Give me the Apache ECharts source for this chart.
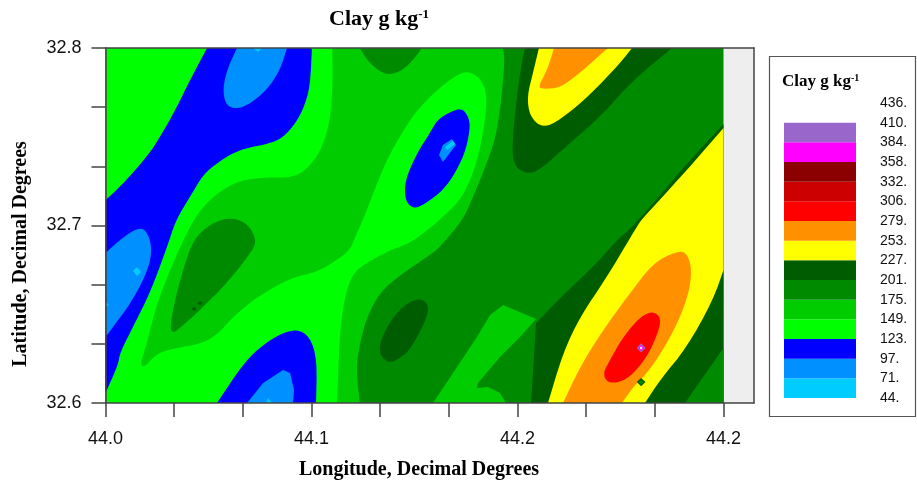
<!DOCTYPE html>
<html><head><meta charset="utf-8">
<style>html,body{margin:0;padding:0;background:#fff}#c{width:917px;height:482px}</style>
<script src="https://cdn.jsdelivr.net/npm/echarts@6/dist/echarts.min.js"></script>
</head><body><div id="c"></div>
<script>
// ---- axis ticks and labels ----
const xTickValues = [44, 44.0333, 44.0667, 44.1, 44.1333, 44.1667, 44.2, 44.2333, 44.2667, 44.3];
const xLabelValues = [44, 44.1, 44.2, 44.3];
const xLabelTexts = ['44.0', '44.1', '44.2', '44.2'];
const yTickValues = [32.6, 32.6333, 32.6667, 32.7, 32.7333, 32.7667, 32.8];
const yLabelValues = [32.6, 32.7, 32.8];
const yLabelTexts = ['32.6', '32.7', '32.8'];

// ---- colour classes, low to high ----
const legendLevels = ['44.', '71.', '97.', '123.', '149.', '175.', '201.', '227.', '253.', '279.', '306.', '332.', '358.', '384.', '410.', '436.'];
const legendColors = ['#00ccff', '#0090ff', '#0000ff', '#00ff00', '#00cc00', '#008a00', '#005c00', '#ffff00', '#ff9000', '#ff0000', '#cc0000', '#8b0000', '#ff00ff', '#9966cc'];

// ---- contour regions: [longitude, latitude] ----
const fieldExtent = [[44, 32.8], [44.3, 32.8], [44.3, 32.6], [44, 32.6]];
const band149Main = [[44.193, 32.8], [44.1939, 32.7915], [44.1905, 32.7538], [44.1852, 32.7352], [44.1784, 32.7161], [44.1735, 32.7031], [44.1624, 32.6879], [44.1575, 32.6834], [44.143, 32.6721], [44.1333, 32.6625], [44.1269, 32.6485], [44.1235, 32.6338], [44.1216, 32.6186], [44.1235, 32.6], [44, 32.6], [44, 32.8]];
const band149Patch = [[44.159, 32.6], [44.1687, 32.6169], [44.1803, 32.6372], [44.1867, 32.6496], [44.193, 32.6552], [44.209, 32.6473], [44.2012, 32.6372], [44.1915, 32.6259], [44.1808, 32.6113], [44.1803, 32.6085], [44.1857, 32.609], [44.1915, 32.6056], [44.1944, 32.6]];
const band175Top = [[44.1235, 32.8], [44.1269, 32.7932], [44.1333, 32.7865], [44.1381, 32.7848], [44.1444, 32.7876], [44.1502, 32.7944], [44.1536, 32.8]];
const band123Main = [[44, 32.8], [44.11, 32.8], [44.1104, 32.782], [44.109, 32.7577], [44.1041, 32.7408], [44.0959, 32.7296], [44.0881, 32.7268], [44.0799, 32.7273], [44.0653, 32.7256], [44.0541, 32.7183], [44.0459, 32.7087], [44.0396, 32.6963], [44.0328, 32.6789], [44.025, 32.6563], [44.0201, 32.6338], [44.0167, 32.6214], [44.0192, 32.6203], [44.025, 32.6282], [44.0362, 32.6315], [44.0459, 32.6332], [44.0541, 32.6383], [44.0619, 32.6485], [44.0735, 32.6597], [44.0896, 32.6704], [44.1027, 32.6738], [44.1124, 32.6806], [44.1187, 32.6862], [44.1221, 32.6958], [44.125, 32.7031], [44.1318, 32.7239], [44.1381, 32.7408], [44.1478, 32.7594], [44.1527, 32.7668], [44.1624, 32.778], [44.1721, 32.7859], [44.1769, 32.7865], [44.1818, 32.7831], [44.1852, 32.7746], [44.1842, 32.7577], [44.1803, 32.7352], [44.1735, 32.7161], [44.1648, 32.7059], [44.1575, 32.6986], [44.1478, 32.6901], [44.1381, 32.6862], [44.1221, 32.6761], [44.1172, 32.6654], [44.1138, 32.6428], [44.1124, 32.6], [44, 32.6]];
const band175Island = [[44.0473, 32.6975], [44.0532, 32.702], [44.0595, 32.7042], [44.0653, 32.7031], [44.0701, 32.6992], [44.0731, 32.6918], [44.0716, 32.6862], [44.059, 32.6676], [44.0459, 32.6524], [44.0362, 32.6423], [44.0328, 32.6394], [44.0313, 32.6423], [44.0337, 32.658], [44.0376, 32.6749], [44.042, 32.6901]];
const band201Blob = [[44.1396, 32.6485], [44.1464, 32.6563], [44.1517, 32.6586], [44.1551, 32.6575], [44.157, 32.6535], [44.1551, 32.6456], [44.1478, 32.6299], [44.143, 32.6254], [44.1381, 32.6225], [44.1342, 32.6254], [44.1328, 32.631], [44.1347, 32.6383]];
const band201DotA = [[44.043, 32.6542], [44.0442, 32.653], [44.043, 32.6518], [44.0418, 32.653]];
const band201DotB = [[44.0459, 32.6575], [44.0471, 32.6563], [44.0459, 32.6551], [44.0447, 32.6563]];
const band97Diagonal = [[44, 32.7144], [44.007, 32.7217], [44.0201, 32.7386], [44.0265, 32.7499], [44.0347, 32.7668], [44.041, 32.782], [44.0493, 32.8], [44.1002, 32.8], [44.0993, 32.778], [44.0959, 32.7651], [44.091, 32.7555], [44.0847, 32.7482], [44.0765, 32.7454], [44.0687, 32.7437], [44.0619, 32.7408], [44.0541, 32.7352], [44.0473, 32.7285], [44.041, 32.7161], [44.0342, 32.7031], [44.0299, 32.6879], [44.0216, 32.662], [44.0133, 32.6428], [44.007, 32.6282], [44.0061, 32.6214], [44, 32.6056]];
const band97Ellipse = [[44.1454, 32.7256], [44.1512, 32.7408], [44.1575, 32.7521], [44.1609, 32.7594], [44.1672, 32.7639], [44.1731, 32.7662], [44.1765, 32.7606], [44.1769, 32.7538], [44.1745, 32.7408], [44.1687, 32.7273], [44.1624, 32.7183], [44.1527, 32.7104], [44.1488, 32.7099], [44.1454, 32.7144]];
const band97Bottom = [[44.0541, 32.6], [44.0638, 32.6169], [44.0716, 32.6282], [44.0833, 32.6383], [44.093, 32.6417], [44.0993, 32.6372], [44.1027, 32.6242], [44.1022, 32.6]];
const band71Top = [[44.0638, 32.8], [44.0595, 32.7893], [44.057, 32.778], [44.058, 32.769], [44.0619, 32.7656], [44.0687, 32.7673], [44.0784, 32.7763], [44.0847, 32.7876], [44.0881, 32.8]];
const band71Left = [[44, 32.6845], [44.0085, 32.6935], [44.0167, 32.6992], [44.0206, 32.6958], [44.0226, 32.6862], [44.0206, 32.6749], [44.0133, 32.658], [44.0036, 32.6428], [44, 32.6372]];
const band71Bottom = [[44.0687, 32.6], [44.0765, 32.6113], [44.0862, 32.6186], [44.0896, 32.6169], [44.0915, 32.6073], [44.091, 32.6]];
const band71Ellipse = [[44.1619, 32.7397], [44.1638, 32.7454], [44.1682, 32.7487], [44.1701, 32.7454], [44.1638, 32.7358]];
const band44Top = [[44.0716, 32.8], [44.074, 32.7977], [44.076, 32.8]];
const band44Left = [[44.0133, 32.6744], [44.0153, 32.6766], [44.0172, 32.6738], [44.0153, 32.6715]];
const band44Edge = [[44, 32.6569], [44.0017, 32.6555], [44, 32.6541]];
const band44Bottom = [[44.0779, 32.6], [44.0789, 32.6028], [44.0808, 32.6]];
const band44Ellipse = [[44.1648, 32.7442], [44.1687, 32.7476], [44.1697, 32.7459], [44.1658, 32.7425]];
const band201Top = [[44.2036, 32.8], [44.2012, 32.7859], [44.1988, 32.7634], [44.1973, 32.7425], [44.1988, 32.733], [44.2046, 32.729], [44.2109, 32.7313], [44.2255, 32.7465], [44.24, 32.7611], [44.2561, 32.782], [44.275, 32.8]];
const band227Top = [[44.2104, 32.8], [44.2075, 32.7859], [44.2046, 32.7724], [44.2061, 32.7611], [44.2124, 32.7549], [44.2206, 32.7594], [44.2352, 32.7735], [44.2498, 32.7915], [44.2556, 32.8]];
const band253Top = [[44.2177, 32.8], [44.2148, 32.7887], [44.21, 32.778], [44.2124, 32.7769], [44.2206, 32.7775], [44.2303, 32.7859], [44.2439, 32.8]];
const band201Lower = [[44.2066, 32.6], [44.209, 32.6451], [44.209, 32.6451], [44.2221, 32.6608], [44.2367, 32.6766], [44.2483, 32.6918], [44.2541, 32.6975], [44.2585, 32.7031], [44.2643, 32.7104], [44.2803, 32.7324], [44.3, 32.7572], [44.3, 32.6]];
const band227Lower = [[44.2148, 32.6], [44.2221, 32.6282], [44.2303, 32.6485], [44.2434, 32.671], [44.2532, 32.6901], [44.257, 32.6975], [44.26, 32.7031], [44.2658, 32.7104], [44.2823, 32.7313], [44.3, 32.7549], [44.3, 32.6749], [44.2949, 32.658], [44.2823, 32.6315], [44.2692, 32.613], [44.2619, 32.6]];
const band175Corner = [[44.2813, 32.6], [44.2901, 32.6146], [44.3, 32.631], [44.3, 32.6]];
const band253Lower = [[44.2221, 32.6], [44.2303, 32.6203], [44.2415, 32.6411], [44.2532, 32.6597], [44.2658, 32.6789], [44.2774, 32.6856], [44.2823, 32.6845], [44.2847, 32.6749], [44.2828, 32.6597], [44.2755, 32.6394], [44.2643, 32.6186], [44.2561, 32.609], [44.2507, 32.6]];
const band279Lower = [[44.2415, 32.6169], [44.2449, 32.6242], [44.2512, 32.6372], [44.2595, 32.6485], [44.2658, 32.6518], [44.2697, 32.6479], [44.2682, 32.6394], [44.2629, 32.6259], [44.2546, 32.6146], [44.2483, 32.6113], [44.2434, 32.6118]];
const peakOuter = [[44.26, 32.6336], [44.2622, 32.631], [44.26, 32.6284], [44.2578, 32.631]];
const peakMiddle = [[44.26, 32.6327], [44.2615, 32.631], [44.26, 32.6293], [44.2585, 32.631]];
const peakInner = [[44.26, 32.6318], [44.2607, 32.631], [44.26, 32.6302], [44.2593, 32.631]];
const spotOuter = [[44.26, 32.6141], [44.2621, 32.6118], [44.26, 32.6095], [44.2579, 32.6118]];
const spotInner = [[44.26, 32.613], [44.2612, 32.6118], [44.26, 32.6106], [44.2588, 32.6118]];

// painted in order, later regions over earlier ones; the third entry keeps a region angular
const contourLayers = [
  [fieldExtent, '#008a00'], [band149Main, '#00cc00'], [band149Patch, '#00cc00', true], [band175Top, '#008a00'],
  [band123Main, '#00ff00'], [band175Island, '#008a00'], [band201Blob, '#005c00'], [band201DotA, '#005c00'], [band201DotB, '#005c00'],
  [band97Diagonal, '#0000ff'], [band97Ellipse, '#0000ff'], [band97Bottom, '#0000ff'],
  [band71Top, '#0090ff'], [band71Left, '#0090ff'], [band71Bottom, '#0090ff'], [band71Ellipse, '#0090ff'],
  [band44Top, '#00ccff'], [band44Left, '#00ccff'], [band44Edge, '#00ccff'], [band44Bottom, '#00ccff'], [band44Ellipse, '#00ccff'],
  [band201Top, '#005c00'], [band227Top, '#ffff00'], [band253Top, '#ff9000'],
  [band201Lower, '#005c00'], [band227Lower, '#ffff00'], [band175Corner, '#008a00'], [band253Lower, '#ff9000'], [band279Lower, '#ff0000'],
  [peakOuter, '#9966cc'], [peakMiddle, '#ff00ff'], [peakInner, '#ffffff'], [spotOuter, '#005c00'], [spotInner, '#008a00']
];

const X0 = 44, X1 = 44.3, Y0 = 32.6, Y1 = 32.8;
const onEdge = p => p[0] === X0 || p[0] === X1 || p[1] === Y0 || p[1] === Y1;
// rounds the hand-read polygon corners when drawing; points on the field edge stay put
function rounded(points) {
  if (points.length < 7) return points;
  let pts = points;
  for (let k = 0; k < 2; k++) {
    const out = [];
    pts.forEach((p, i) => {
      const q = pts[(i + 1) % pts.length];
      out.push(onEdge(p) ? p : [p[0] * .75 + q[0] * .25, p[1] * .75 + q[1] * .25]);
      out.push(onEdge(q) ? q : [p[0] * .25 + q[0] * .75, p[1] * .25 + q[1] * .75]);
    });
    pts = out;
  }
  return pts;
}

const serif = '"Liberation Serif","Times New Roman",serif';
const sans = '"Liberation Sans",Arial,sans-serif';
const titleRich = (a, b) => ({ m: { fontFamily: serif, fontWeight: 'bold', fontSize: a, color: '#000' }, s: { fontFamily: serif, fontWeight: 'bold', fontSize: b, color: '#000', verticalAlign: 'top' } });
const frameLine = { show: true, onZero: false, lineStyle: { color: '#444', width: 1.5 } };

const chart = echarts.init(document.getElementById('c'), null, { renderer: 'canvas' });
chart.setOption({
  animation: false,
  backgroundColor: '#fff',
  title: [
    { text: '{m|Clay g kg}{s|-1}', left: 329, top: 8, padding: 0, textStyle: { rich: titleRich(22, 13) } },
    { text: '{m|Clay g kg}{s|-1}', left: 782, top: 73, padding: 0, textStyle: { rich: titleRich(17, 10) } }
  ],
  grid: [
    { left: 105.5, top: 48, width: 648.5, height: 355, show: true, backgroundColor: '#eeeeee', borderWidth: 0 },
    { left: 784, top: 103, width: 72, height: 295 }
  ],
  xAxis: [
    { gridIndex: 0, type: 'value', min: 44, max: 44.3148, position: 'bottom', z: 5, splitLine: { show: false }, axisLine: frameLine,
      axisTick: { show: true, length: 14, customValues: xTickValues, lineStyle: { color: '#444', width: 1.5 } },
      axisLabel: { customValues: xLabelValues, margin: 27, fontFamily: sans, fontSize: 18, color: '#111', formatter: v => xLabelTexts[xLabelValues.indexOf(v)] } },
    { gridIndex: 0, type: 'value', min: 44, max: 44.3148, position: 'top', z: 5, splitLine: { show: false }, axisLine: frameLine, axisTick: { show: false }, axisLabel: { show: false } },
    { gridIndex: 1, type: 'value', min: 0, max: 1, show: false }
  ],
  yAxis: [
    { gridIndex: 0, type: 'value', min: 32.6, max: 32.8, position: 'left', z: 5, splitLine: { show: false }, axisLine: frameLine,
      axisTick: { show: true, length: 14, customValues: yTickValues, lineStyle: { color: '#444', width: 1.5 } },
      axisLabel: { customValues: yLabelValues, margin: 24, fontFamily: sans, fontSize: 18, color: '#111', formatter: v => yLabelTexts[yLabelValues.indexOf(v)] } },
    { gridIndex: 0, type: 'value', min: 32.6, max: 32.8, position: 'right', z: 5, splitLine: { show: false }, axisLine: frameLine, axisTick: { show: false }, axisLabel: { show: false } },
    { gridIndex: 1, type: 'value', min: 0, max: 15, interval: 1, position: 'right', splitLine: { show: false }, axisLine: { show: false }, axisTick: { show: false },
      axisLabel: { margin: 24, fontFamily: sans, fontSize: 14, color: '#111', formatter: v => legendLevels[v] } }
  ],
  series: [
    { type: 'custom', name: 'Clay contours', coordinateSystem: 'cartesian2d', xAxisIndex: 0, yAxisIndex: 0, clip: true, silent: true,
      data: contourLayers.map((l, i) => [i]),
      renderItem: (params, api) => {
        const layer = contourLayers[params.dataIndex];
        const pts = layer[2] ? layer[0] : rounded(layer[0]);
        return { type: 'polygon', shape: { points: pts.map(p => api.coord(p)) }, style: { fill: layer[1], stroke: null } };
      } },
    { type: 'custom', name: 'Legend', coordinateSystem: 'cartesian2d', xAxisIndex: 2, yAxisIndex: 2, silent: true,
      data: legendColors.map((c, i) => [i]),
      renderItem: (params, api) => {
        const i = params.dataIndex, a = api.coord([0, i + 1]), b = api.coord([1, i]);
        return { type: 'rect', shape: { x: a[0], y: a[1], width: b[0] - a[0], height: b[1] - a[1] }, style: { fill: legendColors[i] } };
      } }
  ],
  graphic: [
    { type: 'rect', z: -1, shape: { x: 769.5, y: 56.5, width: 146, height: 360 }, style: { fill: '#fff', stroke: '#555', lineWidth: 1.2 } },
    { type: 'text', x: 419, y: 470, style: { text: 'Longitude, Decimal Degrees', font: 'bold 20px ' + serif, fill: '#000', align: 'center', verticalAlign: 'middle' } },
    { type: 'text', x: 21, y: 254, rotation: Math.PI / 2, style: { text: 'Latitude, Decimal Degrees', font: 'bold 20px ' + serif, fill: '#000', align: 'center', verticalAlign: 'middle' } }
  ]
});
</script></body></html>
